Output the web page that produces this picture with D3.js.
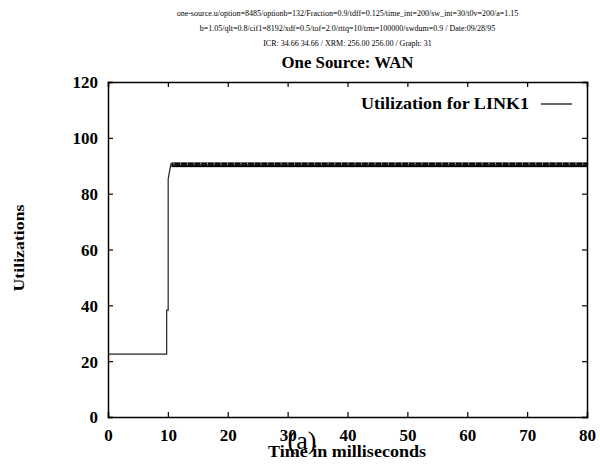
<!DOCTYPE html>
<html>
<head>
<meta charset="utf-8">
<script src="https://cdn.jsdelivr.net/npm/d3@7"></script>
<style>
  body { margin: 0; background: #fff; }
  svg text { font-family: "Liberation Serif", "Times New Roman", serif; }
</style>
</head>
<body>
<div id="chart"></div>
<script>
// header lines of the plot
var headerLines = [
  "one-source.u/option=8485/optionb=132/Fraction=0.9/tdff=0.125/time_int=200/sw_int=30/t0v=200/a=1.15",
  "b=1.05/qlt=0.8/cif1=8192/xdf=0.5/tof=2.0/rttq=10/trm=100000/swdum=0.9 / Date:09/28/95",
  "ICR: 34.66 34.66 / XRM: 256.00 256.00 / Graph: 31"
];
var title = "One Source: WAN";
var legendLabel = "Utilization for LINK1";

// series (time in ms, utilization)
var timeMs = [0, 9.8, 9.8, 10.05, 10.05, 10.5, 11, 80];
var utilization = [22.5, 22.5, 38.3, 38.3, 85.2, 90.6, 90.3, 90.3];
// oscillating band after the ramp
var bandTime = [10.6, 80];
var bandLow = [89.5];
var bandHigh = [91.2];

var xTicks = [0, 10, 20, 30, 40, 50, 60, 70, 80];
var yTicks = [0, 20, 40, 60, 80, 100, 120];

var margin = { top: 82, right: 13, bottom: 52, left: 108 },
  width = 600 - margin.left - margin.right,
  height = 469 - margin.top - margin.bottom;

var svg = d3.select("#chart").append("svg")
  .attr("width", 600)
  .attr("height", 469);

var g = svg.append("g")
  .attr("transform", "translate(" + margin.left + "," + margin.top + ")");

var x = d3.scaleLinear().domain([0, 80]).range([0, width]);
var y = d3.scaleLinear().domain([0, 120]).range([height, 0]);

// header
svg.selectAll("text.header")
  .data(headerLines)
  .enter().append("text")
  .attr("class", "header")
  .attr("x", margin.left + width / 2)
  .attr("y", function(d, i) { return 16 + i * 15; })
  .attr("text-anchor", "middle")
  .attr("font-size", 8)
  .attr("fill", "#000")
  .text(function(d) { return d; });

svg.append("text")
  .attr("x", margin.left + width / 2)
  .attr("y", 68)
  .attr("text-anchor", "middle")
  .attr("font-size", 17)
  .attr("font-weight", "bold")
  .attr("textLength", 132)
  .attr("lengthAdjust", "spacingAndGlyphs")
  .text(title);

// axes, ticks inward, mirrored
var fmt = d3.format("d");
var axBottom = g.append("g")
  .attr("transform", "translate(0," + height + ")")
  .call(d3.axisBottom(x).tickValues(xTicks).tickSize(-5).tickPadding(10).tickFormat(fmt));
var axTop = g.append("g")
  .call(d3.axisTop(x).tickValues(xTicks).tickSize(-5).tickFormat(""));
var axLeft = g.append("g")
  .call(d3.axisLeft(y).tickValues(yTicks).tickSize(-5).tickPadding(10).tickFormat(fmt));
var axRight = g.append("g")
  .attr("transform", "translate(" + width + ",0)")
  .call(d3.axisRight(y).tickValues(yTicks).tickSize(-5).tickFormat(""));

[axBottom, axTop, axLeft, axRight].forEach(function(a) {
  a.select(".domain").attr("stroke", "#000").attr("stroke-width", 1.5);
  a.selectAll(".tick line").attr("stroke", "#000").attr("stroke-width", 1.2);
  a.selectAll("text")
    .attr("font-family", "Liberation Serif, serif")
    .attr("font-size", 17)
    .attr("font-weight", "bold")
    .attr("fill", "#000");
});
axBottom.selectAll("text").attr("dy", "0.85em");
axLeft.selectAll("text").attr("dy", "0.35em");

// band
g.append("rect")
  .attr("x", x(bandTime[0]))
  .attr("y", y(bandHigh[0]))
  .attr("width", x(bandTime[1]) - x(bandTime[0]))
  .attr("height", y(bandLow[0]) - y(bandHigh[0]))
  .attr("fill", "#000");

// light gaps in the band
g.append("line")
  .attr("x1", x(bandTime[0]) + 2)
  .attr("x2", x(bandTime[1]))
  .attr("y1", y(bandHigh[0]) + 1.5)
  .attr("y2", y(bandHigh[0]) + 1.5)
  .attr("stroke", "#bbb")
  .attr("stroke-width", 3)
  .attr("stroke-dasharray", "1,5.7");

// main line
var line = d3.line()
  .x(function(d, i) { return x(timeMs[i]); })
  .y(function(d) { return y(d); });

g.append("path")
  .datum(utilization)
  .attr("fill", "none")
  .attr("stroke", "#222")
  .attr("stroke-width", 1.2)
  .attr("d", line);

// legend
g.append("text")
  .attr("x", 421)
  .attr("y", 27)
  .attr("text-anchor", "end")
  .attr("font-size", 17)
  .attr("font-weight", "bold")
  .attr("textLength", 168)
  .attr("lengthAdjust", "spacingAndGlyphs")
  .text(legendLabel);
g.append("line")
  .attr("x1", 433).attr("x2", 464)
  .attr("y1", 22).attr("y2", 22)
  .attr("stroke", "#000")
  .attr("stroke-width", 1.2);

// axis titles
svg.append("text")
  .attr("transform", "translate(24," + 248 + ") rotate(-90)")
  .attr("text-anchor", "middle")
  .attr("font-size", 15)
  .attr("font-weight", "bold")
  .attr("textLength", 87)
  .attr("lengthAdjust", "spacingAndGlyphs")
  .text("Utilizations");

svg.append("text")
  .attr("x", 347)
  .attr("y", 457)
  .attr("text-anchor", "middle")
  .attr("font-size", 17)
  .attr("font-weight", "bold")
  .attr("textLength", 158)
  .attr("lengthAdjust", "spacingAndGlyphs")
  .text("Time in milliseconds");

svg.append("text")
  .attr("x", 302)
  .attr("y", 449)
  .attr("text-anchor", "middle")
  .attr("font-size", 26)
  .text("(a)");
</script>
</body>
</html>
